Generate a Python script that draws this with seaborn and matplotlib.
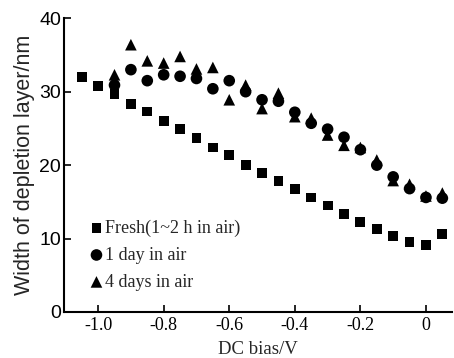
import numpy as np
import pandas as pd
import matplotlib
matplotlib.use('Agg')
import matplotlib.pyplot as plt
import seaborn as sns

# bias voltages (V) and depletion widths (nm)
bias_fresh = [-1.05, -1.0, -0.95, -0.9, -0.85, -0.8, -0.75, -0.7, -0.65, -0.6, -0.55, -0.5,
              -0.45, -0.4, -0.35, -0.3, -0.25, -0.2, -0.15, -0.1, -0.05, 0.0, 0.05]
width_fresh = [32.0, 30.8, 29.7, 28.3, 27.3, 26.0, 24.9, 23.7, 22.4, 21.4, 20.0, 18.9,
               17.8, 16.7, 15.6, 14.5, 13.4, 12.3, 11.3, 10.3, 9.5, 9.1, 10.6]

bias_aged = [-0.95, -0.9, -0.85, -0.8, -0.75, -0.7, -0.65, -0.6, -0.55, -0.5,
             -0.45, -0.4, -0.35, -0.3, -0.25, -0.2, -0.15, -0.1, -0.05, 0.0, 0.05]
width_1day = [30.9, 33.0, 31.5, 32.3, 32.1, 31.8, 30.4, 31.5, 30.0, 28.9,
              28.7, 27.2, 25.7, 24.9, 23.8, 22.1, 20.0, 18.4, 16.8, 15.6, 15.5]
width_4days = [32.3, 36.4, 34.2, 33.9, 34.8, 33.1, 33.3, 28.9, 30.9, 27.7,
               29.8, 26.6, 26.4, 24.1, 22.7, 22.4, 20.7, 17.9, 17.4, 15.8, 16.2]

labels = ['Fresh(1~2 h in air)', '1 day in air', '4 days in air']

df = pd.concat([
    pd.DataFrame({'bias': bias_fresh, 'width': width_fresh, 'sample': labels[0]}),
    pd.DataFrame({'bias': bias_aged, 'width': width_1day, 'sample': labels[1]}),
    pd.DataFrame({'bias': bias_aged, 'width': width_4days, 'sample': labels[2]}),
])

sns.set_style('ticks')
plt.rcParams['font.family'] = ['Liberation Serif', 'DejaVu Serif']

fig = plt.figure(figsize=(4.54, 3.58), dpi=100)
ax = fig.add_axes([0.141, 0.1285, 0.855, 0.8205])

markers = {labels[0]: 's', labels[1]: 'o', labels[2]: '^'}
sizes = {labels[0]: 50, labels[1]: 70, labels[2]: 70}
for lab in labels:
    sns.scatterplot(data=df[df['sample'] == lab], x='bias', y='width', marker=markers[lab],
                    s=sizes[lab], color='black', edgecolor='none', label=lab, ax=ax)

ax.set_xlim(-1.104, 0.08)
ax.set_ylim(0, 40)
ax.set_xticks([-1.0, -0.8, -0.6, -0.4, -0.2, 0])
ax.set_xticklabels(['-1.0', '-0.8', '-0.6', '-0.4', '-0.2', '0'])
ax.set_yticks([0, 10, 20, 30, 40])
ax.tick_params(direction='in', length=5, width=1.2, labelsize=13, colors='black')
ax.tick_params(axis='y', labelsize=14, pad=2)
for t in ax.get_yticklabels():
    t.set_family(['Liberation Sans', 'DejaVu Sans'])
sns.despine(ax=ax)
for sp in ['left', 'bottom']:
    ax.spines[sp].set_linewidth(1.5)
    ax.spines[sp].set_color('black')

ax.set_xlabel('DC bias/V', fontsize=13.5, labelpad=5)
ax.set_ylabel('Width of depletion layer/nm', fontsize=15.5, family=['Liberation Sans', 'DejaVu Sans'],
              labelpad=3)

ax.legend(loc='upper left', bbox_to_anchor=(0.065, 0.315), frameon=False, fontsize=13,
          handletextpad=0.05, handlelength=0.8, borderpad=0, borderaxespad=0, labelspacing=0.55)

fig.savefig('out.png', dpi=100)
